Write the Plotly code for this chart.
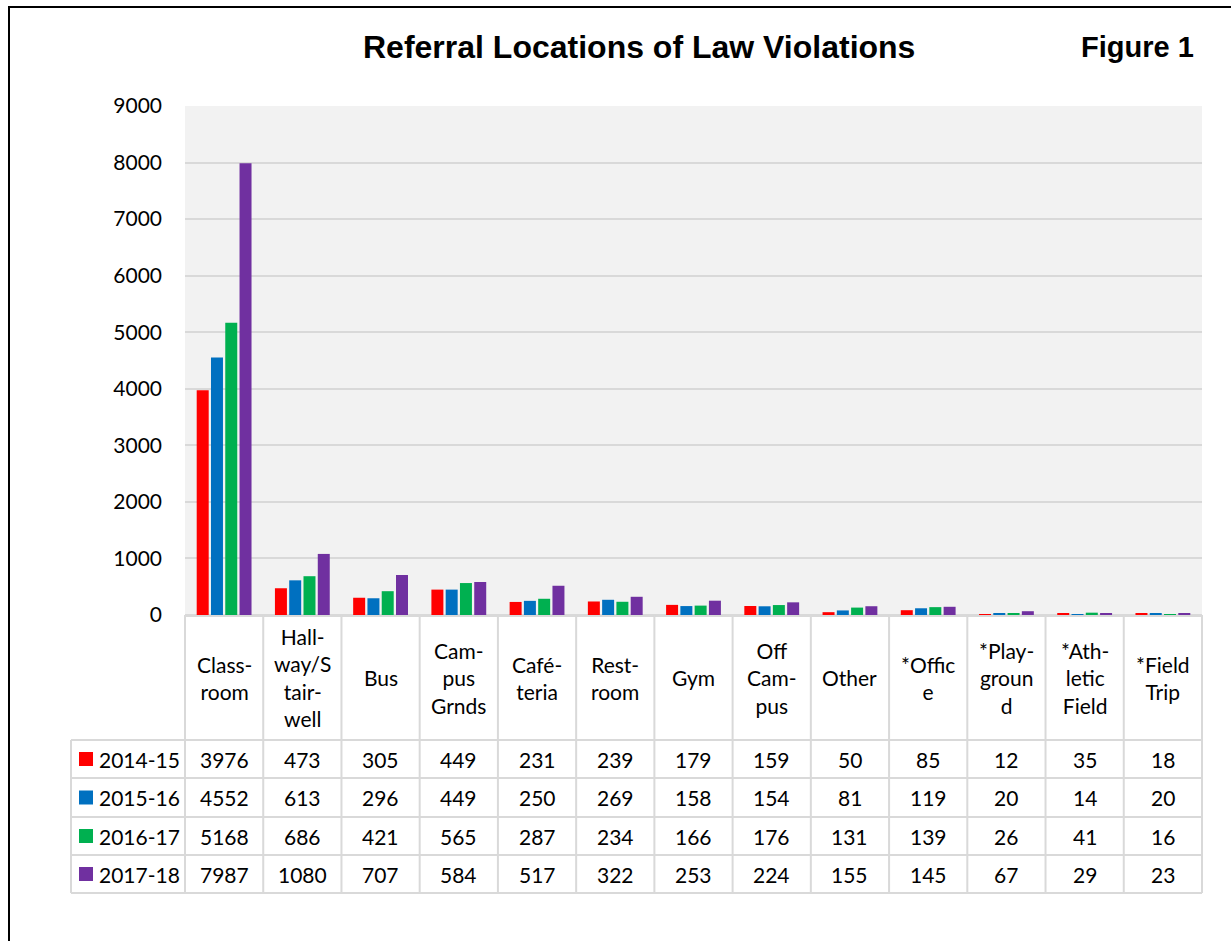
import plotly.graph_objects as go

# ---------------- data ----------------
categories = ["Class-<br>room", "Hall-<br>way/S<br>tair-<br>well", "Bus", "Cam-<br>pus<br>Grnds",
              "Café-<br>teria", "Rest-<br>room", "Gym", "Off<br>Cam-<br>pus", "Other",
              "*Offic<br>e", "*Play-<br>groun<br>d", "*Ath-<br>letic<br>Field", "*Field<br>Trip"]
series_names = ["2014-15", "2015-16", "2016-17", "2017-18"]
v_2014_15 = [3976, 473, 305, 449, 231, 239, 179, 159, 50, 85, 12, 35, 18]
v_2015_16 = [4552, 613, 296, 449, 250, 269, 158, 154, 81, 119, 20, 14, 20]
v_2016_17 = [5168, 686, 421, 565, 287, 234, 166, 176, 131, 139, 26, 41, 16]
v_2017_18 = [7987, 1080, 707, 584, 517, 322, 253, 224, 155, 145, 67, 29, 23]
series_values = [v_2014_15, v_2015_16, v_2016_17, v_2017_18]
y_ticks = [0, 1000, 2000, 3000, 4000, 5000, 6000, 7000, 8000, 9000]

colors = ["#FF0000", "#0070C0", "#00B050", "#7030A0"]

# ---------------- layout geometry (pixels) ----------------
W, H = 1231, 941
L, R, T, B = 185, 29, 106, 326
PW, PH = W - L - R, H - T - B
Y0 = H - B  # pixel y of value 0


def px_x(p):
    return (p - L) / PW


def px_y(p):
    return (Y0 - p) / PH


FONT = "Lato, 'Open Sans', sans-serif"
FS = 21
GRID = "#D9D9D9"

fig = go.Figure()
for name, vals, c in zip(series_names, series_values, colors):
    fig.add_trace(go.Bar(x=categories, y=vals, name=name, marker=dict(color=c, line=dict(width=0)),
                         showlegend=False))

n = len(categories)
shapes = []
annotations = []

# outer frame (left and top lines)
shapes.append(dict(type="path", xref="paper", yref="paper",
                   path=f"M {px_x(9)} {px_y(H + 5)} L {px_x(9)} {px_y(7)} L {px_x(W + 5)} {px_y(7)}",
                   line=dict(color="#000000", width=2)))

# table geometry
header_bottom = 740
row_edges = [740, 778, 817, 855, 893]
legend_left = 71


def cat_edge(i):
    return i / n  # paper x of boundary i (axis range -0.5..n-0.5)


# vertical lines of table
for i in range(n + 1):
    shapes.append(dict(type="line", xref="paper", yref="paper",
                       x0=cat_edge(i), x1=cat_edge(i), y0=px_y(Y0), y1=px_y(row_edges[-1]),
                       line=dict(color=GRID, width=2)))
shapes.append(dict(type="line", xref="paper", yref="paper",
                   x0=px_x(legend_left), x1=px_x(legend_left), y0=px_y(row_edges[0]), y1=px_y(row_edges[-1]),
                   line=dict(color=GRID, width=2)))
# horizontal lines
for k, e in enumerate(row_edges):
    shapes.append(dict(type="line", xref="paper", yref="paper",
                       x0=px_x(legend_left), x1=1, y0=px_y(e), y1=px_y(e),
                       line=dict(color=GRID, width=2)))

# header labels
for c in categories:
    annotations.append(dict(x=c, xref="x", y=px_y((Y0 + header_bottom) / 2), yref="paper",
                            text=c, showarrow=False, xanchor="center", yanchor="middle",
                            font=dict(family=FONT, size=FS, color="#000000"), align="center"))

# data rows
for r, (name, vals, col) in enumerate(zip(series_names, series_values, colors)):
    yc = px_y((row_edges[r] + row_edges[r + 1]) / 2)
    for c, v in zip(categories, vals):
        annotations.append(dict(x=c, xref="x", y=yc, yref="paper", text=str(v), showarrow=False,
                                xanchor="center", yanchor="middle",
                                font=dict(family=FONT, size=FS, color="#000000")))
    # legend key square
    ymid = (row_edges[r] + row_edges[r + 1]) / 2
    shapes.append(dict(type="rect", xref="paper", yref="paper",
                       x0=px_x(79), x1=px_x(93), y0=px_y(ymid - 7), y1=px_y(ymid + 7),
                       fillcolor=col, line=dict(width=0)))
    annotations.append(dict(x=px_x(97), xref="paper", y=yc, yref="paper", text=name, showarrow=False,
                            xanchor="left", yanchor="middle",
                            font=dict(family=FONT, size=FS, color="#000000")))

# title and figure label
annotations.append(dict(x=px_x(639), xref="paper", y=px_y(47), yref="paper",
                        text="<b>Referral Locations of Law Violations</b>", showarrow=False,
                        xanchor="center", yanchor="middle",
                        font=dict(family="'Liberation Sans', Arial, sans-serif", size=32, color="#000000")))
annotations.append(dict(x=px_x(1196), xref="paper", y=px_y(47), yref="paper",
                        text="<b>Figure 1</b>", showarrow=False, xanchor="right", yanchor="middle",
                        font=dict(family="'Liberation Sans', Arial, sans-serif", size=29, color="#000000")))

fig.update_layout(
    width=W, height=H,
    margin=dict(l=L, r=R, t=T, b=B, pad=0),
    paper_bgcolor="#FFFFFF",
    plot_bgcolor="#F2F2F2",
    barmode="group",
    bargap=0.27,
    bargroupgap=0.16,
    shapes=shapes,
    annotations=annotations,
    font=dict(family=FONT, size=FS, color="#000000"),
)
fig.update_xaxes(showticklabels=False, showgrid=False, showline=False, ticks="",
                 range=[-0.5, n - 0.5], fixedrange=True)
fig.update_yaxes(range=[0, 9000], tickvals=y_ticks, ticktext=[str(t) for t in y_ticks],
                 showgrid=True, gridcolor=GRID, gridwidth=2, zeroline=True, zerolinecolor=GRID,
                 zerolinewidth=3, showline=False, ticks="", ticklabelstandoff=22,
                 tickfont=dict(family=FONT, size=FS, color="#000000"))

fig.write_html("out.html", config={"displayModeBar": False},
               post_script="document.body.style.margin='0';document.body.style.padding='0';")
